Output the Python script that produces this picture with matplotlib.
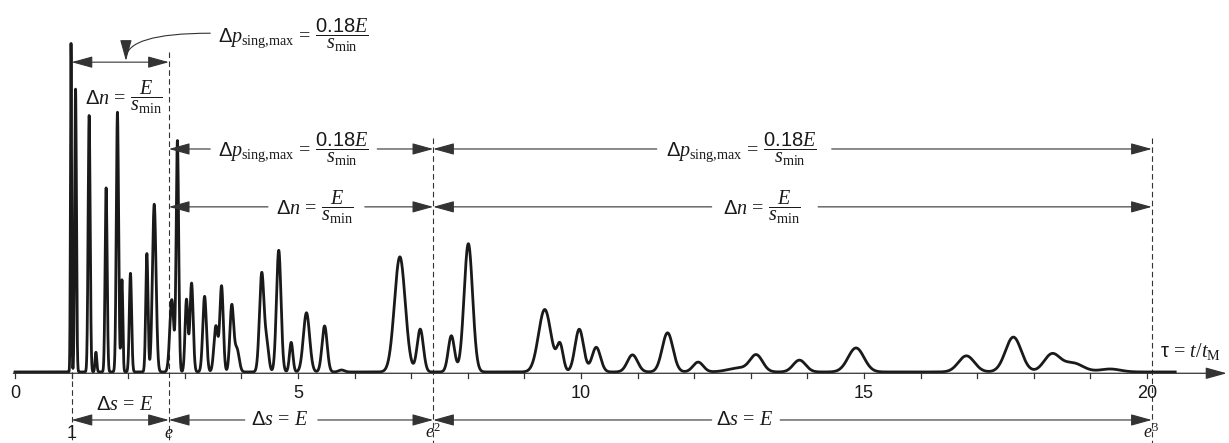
import numpy as np
import matplotlib.pyplot as plt

plt.rcParams['font.family'] = ['Liberation Sans', 'DejaVu Sans']
plt.rcParams['mathtext.fontset'] = 'custom'
plt.rcParams['mathtext.rm'] = 'Liberation Serif'
plt.rcParams['mathtext.it'] = 'Liberation Serif:italic'
plt.rcParams['mathtext.bf'] = 'Liberation Serif:bold'
plt.rcParams['mathtext.sf'] = 'Liberation Sans'

# peaks: position (tau), height, width
peak_pos = [0.99, 1.07, 1.31, 1.43, 1.61, 1.81, 1.89, 2.04, 2.33, 2.46,
            2.77, 2.87, 3.03, 3.12, 3.35, 3.55, 3.65, 3.83, 3.92, 4.36,
            4.45, 4.66, 4.88, 5.15, 5.47, 5.77, 6.80, 7.16, 7.71, 8.01,
            9.36, 9.63, 9.97, 10.27, 10.91, 11.53, 12.07, 12.8, 13.10, 13.86,
            14.86, 16.81, 17.64, 18.32, 18.69, 19.35]
peak_height = [100, 86, 78, 6, 56, 79, 28, 30, 36, 51,
               22, 70, 22, 27, 23, 14, 26, 20, 7, 30,
               8, 37, 9, 18, 14, 0.6, 35, 13, 11, 39,
               19, 8, 13, 7.5, 5.2, 11.9, 3, 1.2, 4.9, 3.6,
               7.3, 4.9, 10.6, 5.3, 2.7, 0.9]
peak_width = [0.010, 0.015, 0.018, 0.015, 0.018, 0.020, 0.015, 0.020, 0.020, 0.032,
              0.035, 0.022, 0.025, 0.028, 0.032, 0.035, 0.030, 0.033, 0.040, 0.040,
              0.035, 0.040, 0.030, 0.055, 0.045, 0.050, 0.095, 0.055, 0.055, 0.075,
              0.11, 0.055, 0.075, 0.075, 0.09, 0.095, 0.09, 0.2, 0.11, 0.11,
              0.14, 0.14, 0.14, 0.14, 0.18, 0.18]

tick_labels = ['0', '5', '10', '15', '20']
tick_vals = [0, 5, 10, 15, 20]
marks = [1, np.e, np.e ** 2, np.e ** 3]
mark_labels = ['1', '$e$', '$e^2$', '$e^3$']

tau = np.linspace(0, 20.5, 16000)
signal = np.zeros_like(tau)
for c, h, w in zip(peak_pos, peak_height, peak_width):
    signal += h * np.exp(-0.5 * ((tau - c) / w) ** 2)

fig = plt.figure(figsize=(12.29, 4.43), dpi=100)
ax = fig.add_axes([0, 0, 1, 1])
ax.set_xlim(-0.265, 21.45)
ax.set_ylim(-21.6, 113.1)
ax.axis('off')

ink = '#1a1a1a'
thin = '#333333'
fs = 14.5

ax.plot(tau, signal, color=ink, lw=2.0, solid_joinstyle='round', zorder=3)

# time axis with arrow
ax.annotate('', xy=(21.41, -0.4), xytext=(-0.03, -0.4),
            arrowprops=dict(arrowstyle='-|>,head_length=1.3,head_width=0.36',
                            mutation_scale=10, lw=0.9, color=thin,
                            shrinkA=0, shrinkB=0))
for i in range(21):
    ax.plot([i, i], [-0.4, -1.7], color=thin, lw=0.9)
for v, s in zip(tick_vals, tick_labels):
    ax.text(v, -6.7, s, ha='center', va='center', fontsize=13, color=ink)
ax.text(20.23, 6.1, r'$\mathsf{\tau}\,=\,t/t_{\mathrm{M}}$', ha='left',
        va='center', fontsize=fs, color=ink)

# dashed markers at 1, e, e^2, e^3
tops = [0, 97.3, 71.1, 71.1]
for m, top, lab in zip(marks, tops, mark_labels):
    ax.plot([m, m], [top, -21.6], color=thin, lw=0.8, dashes=(5, 3))
    ax.text(m, -21.3, lab, ha='center', va='bottom', fontsize=13, color=ink)

head = '-|>,head_length=1.3,head_width=0.36'


def arrow(x0, x1, y, style=head):
    ax.annotate('', xy=(x1, y), xytext=(x0, y),
                arrowprops=dict(arrowstyle=style, mutation_scale=10, lw=0.8,
                                color=thin, shrinkA=0, shrinkB=0))


both = '<|-|>,head_length=1.3,head_width=0.36'
dp_txt = r'$\mathsf{\Delta}p_{\mathrm{sing{,}max}}\,=\,\dfrac{\mathsf{0.18}E}{s_{\mathrm{min}}}$'
dn_txt = r'$\mathsf{\Delta}n\,=\,\dfrac{E}{s_{\mathrm{min}}}$'
ds_txt = r'$\mathsf{\Delta}s\,=\,E$'
e1, e2, e3 = marks[1], marks[2], marks[3]

# first interval 1 .. e
arrow(1, e1, 94.2, both)
ax.text(1.93, 83.6, dn_txt, ha='center', va='center', fontsize=fs, color=ink)
ax.text(4.91, 102.4, dp_txt, ha='center', va='center', fontsize=fs, color=ink)
ax.annotate('', xy=(1.96, 94.6), xytext=(3.45, 103.0),
            arrowprops=dict(arrowstyle=head, mutation_scale=10, lw=0.8,
                            color=thin, shrinkA=0, shrinkB=0,
                            connectionstyle='angle3,angleA=0,angleB=90'))
arrow(1, e1, -14.6, both)
ax.text(1.94, -10.0, ds_txt, ha='center', va='center', fontsize=fs, color=ink)

# second and third intervals: lines broken by labels
rows = [(67.8, dp_txt, [(3.45, 6.40, 4.91), (11.34, 14.43, 12.83)]),
        (50.2, dn_txt, [(4.47, 6.18, 5.30), (12.31, 14.19, 13.20)]),
        (-14.6, ds_txt, [(4.06, 5.35, 4.68), (12.31, 13.52, 12.90)])]
for y, txt, segs in rows:
    for (a, b, c), lo, hi in zip(segs, [e1, e2], [e2, e3]):
        arrow(a, lo, y)
        arrow(b, hi, y)
        ax.text(c, y, txt, ha='center', va='center', fontsize=fs, color=ink)

fig.savefig('out.png', dpi=100)
